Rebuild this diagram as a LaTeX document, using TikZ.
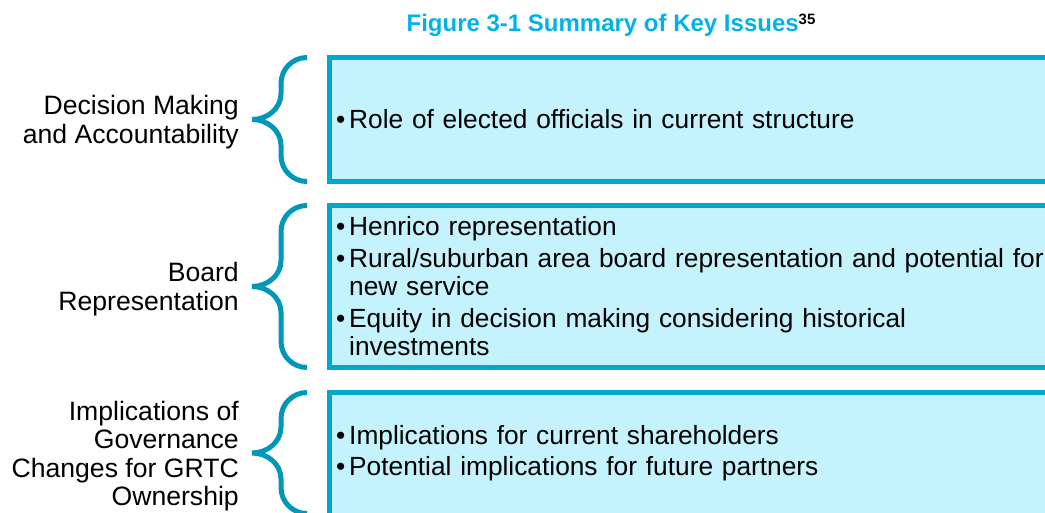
\documentclass[tikz,border=0pt]{standalone}
\usepackage{fontspec}
\setmainfont{Liberation Sans}

\definecolor{boxfill}{HTML}{C5F3FD}
\definecolor{boxline}{HTML}{00A8D0}
\definecolor{bracecol}{HTML}{0097B9}
\definecolor{titlecol}{HTML}{00B2E6}

\newcommand{\issue}[1]{\hangindent=13pt\hangafter=1\noindent\makebox[13pt][l]{\textbullet}#1\par}

\tikzset{
  issuebox/.style={draw=boxline, fill=boxfill, line width=5pt, inner sep=0pt,
    outer sep=0pt, anchor=north west, minimum width=730pt},
  issuebrace/.style={draw=bracecol, line width=5pt},
  issuelabel/.style={align=right, inner sep=0pt, anchor=east,
    font=\fontsize{26.6}{28.5}\selectfont},
  issuetext/.style={align=left, inner sep=0pt, anchor=west, text width=720pt,
    font=\fontsize{26.3}{28.5}\selectfont,
    execute at begin node={\setlength{\parskip}{3pt}}}
}

\begin{document}
\begin{tikzpicture}[x=1pt, y=1pt]
        \useasboundingbox (0,0) rectangle (1045,512);
        \clip (0,0) rectangle (1045,512);

        % Title
        \node[anchor=base, inner sep=0pt, text=titlecol, font=\fontsize{24}{28}\selectfont\bfseries] (title) at (611,480)
            {Figure 3-1 Summary of Key Issues\raisebox{7.5pt}{\fontsize{15}{15}\selectfont\color{black}35}};

        % Issue boxes
        \node[issuebox, minimum height=124pt] (box1) at (329.5,454.5) {};
        \node[issuebox, minimum height=162pt] (box2) at (329.5,306.5) {};
        \node[issuebox, minimum height=135pt] (box3) at (329.5,119.5) {};

        % Braces
        \draw[issuebrace] (307,454.5) to[out=180,in=90] (281,428.5) -- (281,418.5)
            to[out=-90,in=0] (252,392.5) to[out=0,in=90] (281,366.5) -- (281,356.5)
            to[out=-90,in=180] (307,330.5);
        \draw[issuebrace] (307,306.5) to[out=180,in=90] (281,280.5) -- (281,251.5)
            to[out=-90,in=0] (252,225.5) to[out=0,in=90] (281,199.5) -- (281,170.5)
            to[out=-90,in=180] (307,144.5);
        \draw[issuebrace] (307,119.5) to[out=180,in=90] (281,93.5) -- (281,85)
            to[out=-90,in=0] (252,59) to[out=0,in=90] (281,33) -- (281,24.5)
            to[out=-90,in=180] (307,-1.5);

        % Issue labels
        \node[issuelabel] (label1) at (239,390) {Decision Making\\and Accountability};
        \node[issuelabel] (label2) at (239,223) {Board\\Representation};
        \node[issuelabel] (label3) at (239,56) {Implications of\\Governance\\Changes for GRTC\\Ownership};

        % Issue items
        \node[issuetext] (items1) at (336,392.5) {\issue{Role of elected officials in current structure}};
        \node[issuetext] (items2) at (336,225.5) {%
            \issue{Henrico representation}
            \issue{Rural/suburban area board representation and potential for\newline new service}
            \issue{Equity in decision making considering historical\newline investments}};
        \node[issuetext] (items3) at (336,59) {%
            \issue{Implications for current shareholders}
            \issue{Potential implications for future partners}};
    \end{tikzpicture}
\end{document}
